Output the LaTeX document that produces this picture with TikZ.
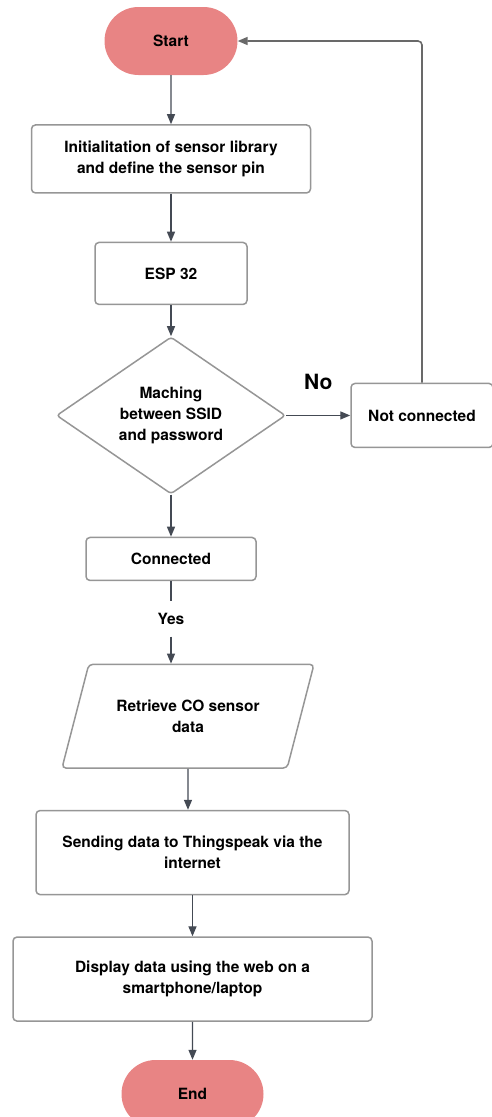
\documentclass[tikz,border=0pt]{standalone}
\usepackage{fontspec}
\setsansfont{TeX Gyre Heros}
\usepackage{xcolor}
\usetikzlibrary{shapes.geometric, shapes.misc, arrows.meta, positioning}

\definecolor{termfill}{RGB}{232,132,132}
\definecolor{boxline}{RGB}{150,150,150}
\definecolor{arrline}{RGB}{68,74,84}
\definecolor{loopline}{RGB}{105,105,105}

\begin{document}
\begin{tikzpicture}[x=1pt, y=-1pt,
    % --- node styles ---
    term/.style={rounded rectangle, draw=none, fill=termfill,
        minimum width=133pt, minimum height=68pt, inner sep=0pt,
        font=\sffamily\bfseries\fontsize{15.5}{21}\selectfont},
    proc/.style={rectangle, rounded corners=4pt, draw=boxline,
        line width=1.5pt, fill=white, align=center, inner sep=0pt,
        font=\sffamily\bfseries\fontsize{15.5}{21}\selectfont},
    dec/.style={diamond, aspect=1.46, rounded corners=3pt, draw=boxline,
        line width=1.5pt, fill=white, align=center, inner sep=0pt,
        minimum width=229pt, minimum height=157pt,
        font=\sffamily\bfseries\fontsize{15.5}{21}\selectfont},
    io/.style={trapezium, trapezium left angle=75.5, trapezium right angle=104.5,
        trapezium stretches body=true, rounded corners=4pt, draw=boxline,
        line width=1.5pt, fill=white, align=center, inner xsep=0pt, inner ysep=35.5pt,
        minimum width=252pt,
        font=\sffamily\bfseries\fontsize{15.5}{21}\selectfont},
    % --- arrow / label styles ---
    arr/.style={-{Triangle[length=10pt, width=8pt]}, line width=1.3pt, draw=arrline},
    seg/.style={line width=1.3pt, draw=arrline},
    back/.style={-{Triangle[length=10pt, width=8pt]}, line width=1.6pt,
        draw=loopline, rounded corners=4pt},
    lbl/.style={inner sep=0pt, font=\sffamily\bfseries\fontsize{15.5}{21}\selectfont},
    nolbl/.style={inner sep=0pt, font=\sffamily\bfseries\fontsize{21}{25}\selectfont}
]

\useasboundingbox (0,0) rectangle (491,1117);

%%% ================= COLUMN: SETUP =================
\node (start) [term] at (171,41) {Start};
\node (init) [proc, minimum width=279pt, minimum height=68pt, below=49pt of start]
    {Initialitation of sensor library\\and define the sensor pin};
\node (esp) [proc, minimum width=152pt, minimum height=62pt, below=48pt of init]
    {ESP 32};

%%% ================= GATE: WIFI =================
\node (match) [dec, below=31pt of esp]
    {Maching\\between SSID\\and password};
\node (notconn) [proc, minimum width=142pt, minimum height=64pt, right=64pt of match]
    {Not connected};
\node (conn) [proc, minimum width=170pt, minimum height=43pt, below=42pt of match]
    {Connected};
\node (yes) [lbl, minimum height=35pt, below=20pt of conn] {Yes};

%%% ================= COLUMN: DATA =================
\node (read) [io, below=27pt of yes, xshift=17pt]
    {Retrieve CO sensor\\data};
\node (send) [proc, minimum width=313pt, minimum height=84pt, below=41pt of read, xshift=4.5pt]
    {Sending data to Thingspeak via the\\internet};
\node (disp) [proc, minimum width=359pt, minimum height=84pt, below=41pt of send]
    {Display data using the web on a\\smartphone/laptop};
\node (endnode) [term, minimum width=142pt, below=38pt of disp] {End};

%%% ================= ARROWS =================
\draw [arr] (start) -- (init);
\draw [arr] (init) -- (esp);
\draw [arr] (esp) -- (match);
\draw [arr] (match) -- node[nolbl, above=25pt] {No} (notconn);
\draw [arr] (match) -- (conn);
\draw [seg] (conn) -- (yes);
\draw [arr] (yes) -- (yes |- read.north);
\draw [arr] (read) -- (read |- send.north);
\draw [arr] (send) -- (disp);
\draw [arr] (disp) -- (endnode);

%% back to start
\draw [back] (notconn.north) |- (start.east);

\end{tikzpicture}
\end{document}
